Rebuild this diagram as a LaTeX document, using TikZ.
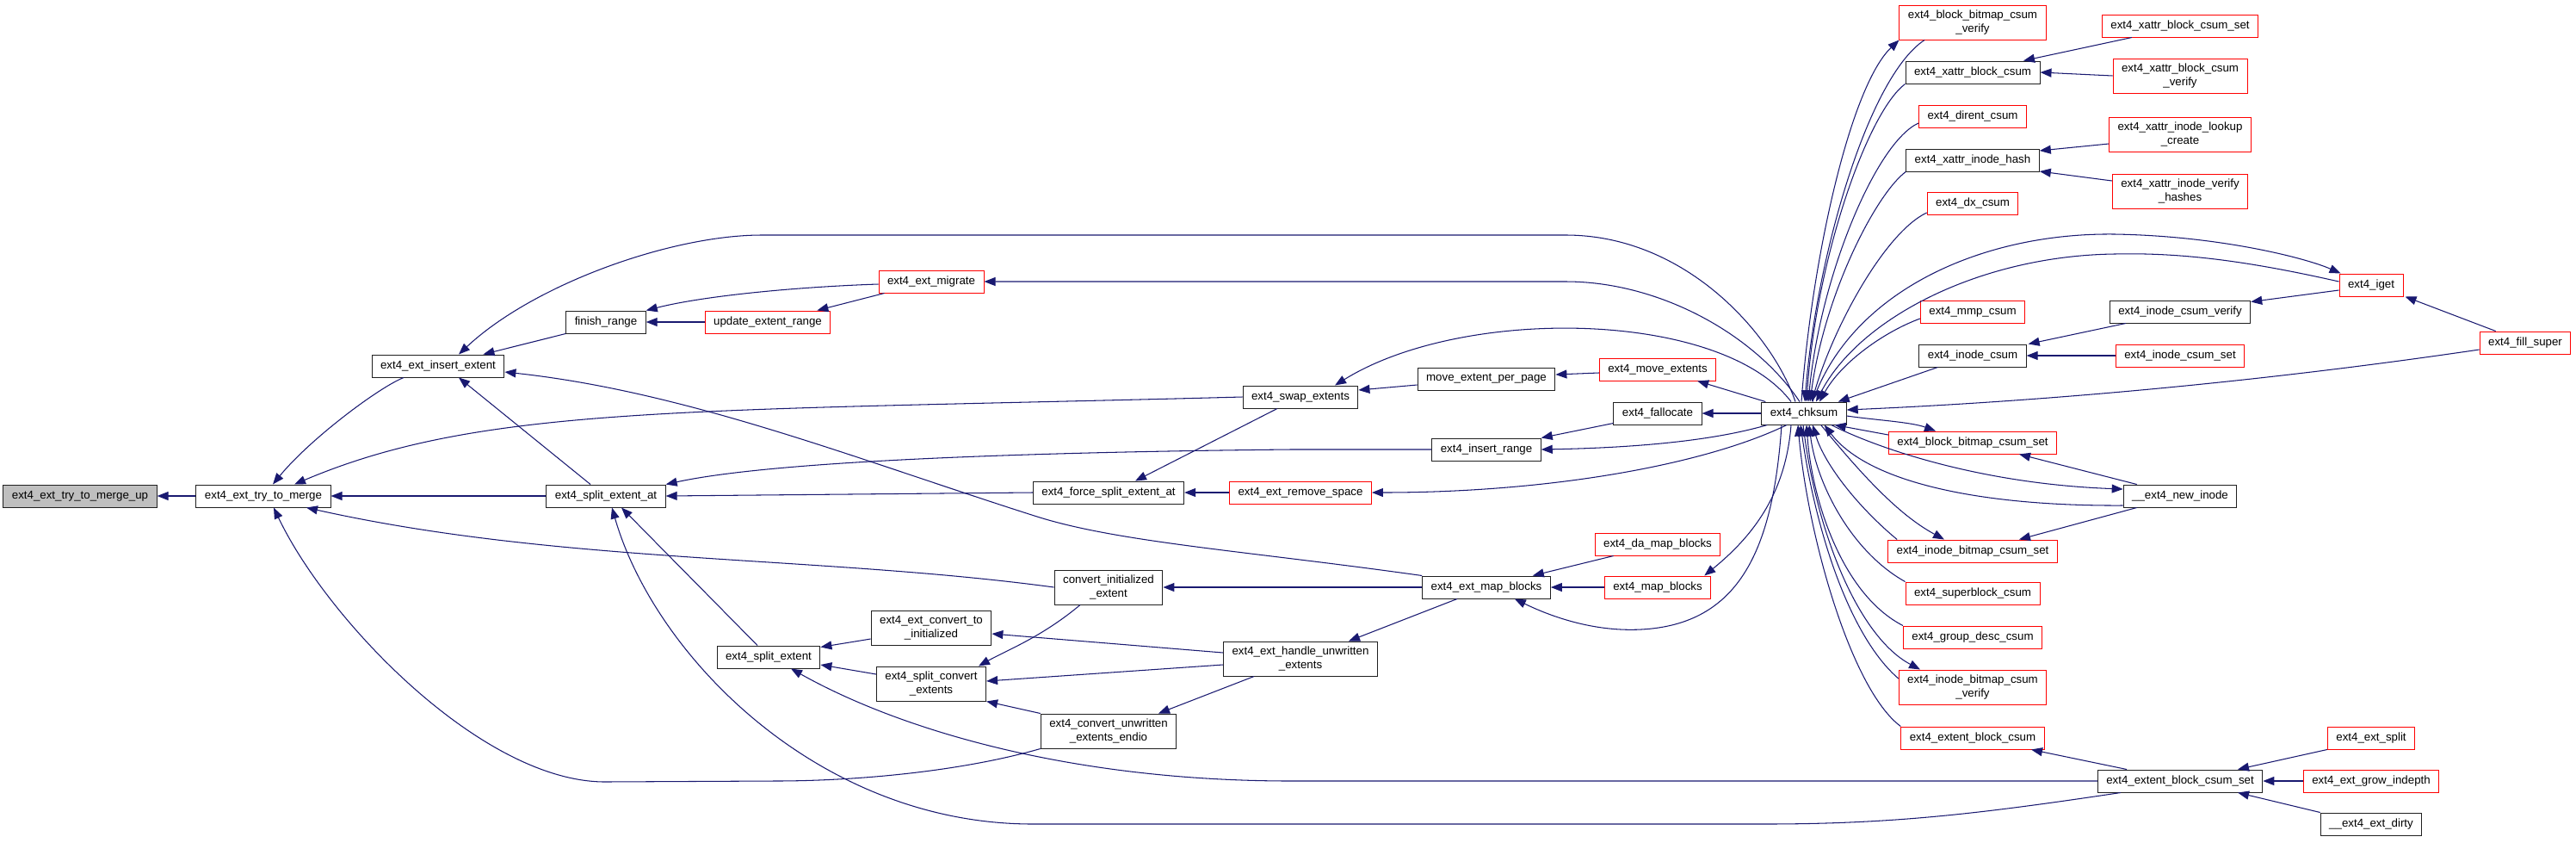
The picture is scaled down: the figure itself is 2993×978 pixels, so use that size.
\documentclass[tikz,border=0pt]{standalone}
\usepackage{fontspec}
\setmainfont{Liberation Sans}
\usetikzlibrary{arrows.meta}
\definecolor{edgec}{HTML}{191970}
\definecolor{rootfill}{HTML}{BFBFBF}
\definecolor{redc}{HTML}{FF0000}
\definecolor{boxc}{HTML}{202020}
\begin{document}
\begin{tikzpicture}[x=1pt,y=-1pt,
  nb/.style={draw=boxc, line width=1pt, fill=white, inner xsep=10pt, inner ysep=4pt,
    minimum height=26pt, font=\fontsize{13.3}{15.5}\selectfont, align=center},
  nr/.style={nb, draw=redc},
  nroot/.style={nb, fill=rootfill},
  two/.style={minimum height=40pt},
  cl/.style={draw=edgec, line width=1.05pt, -{Triangle[length=13pt,width=10pt]}}]
\useasboundingbox (0,0) rectangle (2993,978);
% nodes
\node[nroot] (tmu) at (93,576) {ext4\_ext\_try\_to\_merge\_up};
\node[nb] (tm) at (306,576) {ext4\_ext\_try\_to\_merge};
\node[nb] (ie) at (509,425) {ext4\_ext\_insert\_extent};
\node[nb] (fr) at (704,374) {finish\_range};
\node[nb] (sea) at (704,576) {ext4\_split\_extent\_at};
\node[nb] (se) at (893,763) {ext4\_split\_extent};
\node[nr] (uer) at (892,374) {update\_extent\_range};
\node[nr] (mig) at (1082,327) {ext4\_ext\_migrate};
\node[nb,two] (cti) at (1082,729) {ext4\_ext\_convert\_to\\\_initialized};
\node[nb,two] (sce) at (1082,794) {ext4\_split\_convert\\\_extents};
\node[nb,two] (cie) at (1288,682) {convert\_initialized\\\_extent};
\node[nb] (fsea) at (1288,572) {ext4\_force\_split\_extent\_at};
\node[nb,two] (cue) at (1288,849) {ext4\_convert\_unwritten\\\_extents\_endio};
\node[nb] (swap) at (1511,461) {ext4\_swap\_extents};
\node[nr] (rms) at (1511,572) {ext4\_ext\_remove\_space};
\node[nb,two] (hue) at (1511,765) {ext4\_ext\_handle\_unwritten\\\_extents};
\node[nb] (mepp) at (1727,440) {move\_extent\_per\_page};
\node[nb] (ir) at (1727,522) {ext4\_insert\_range};
\node[nb] (emb) at (1727,682) {ext4\_ext\_map\_blocks};
\node[nr] (mvx) at (1926,429) {ext4\_move\_extents};
\node[nb] (fal) at (1926,480) {ext4\_fallocate};
\node[nr] (dmb) at (1926,632) {ext4\_da\_map\_blocks};
\node[nr] (mb) at (1926,682) {ext4\_map\_blocks};
\node[nb] (chk) at (2096,480) {ext4\_chksum};
\node[nr,two] (bbcv) at (2292,26) {ext4\_block\_bitmap\_csum\\\_verify};
\node[nb] (xbc) at (2292,84) {ext4\_xattr\_block\_csum};
\node[nr] (dirent) at (2292,135) {ext4\_dirent\_csum};
\node[nb] (xih) at (2292,186) {ext4\_xattr\_inode\_hash};
\node[nr] (dx) at (2292,236) {ext4\_dx\_csum};
\node[nr] (mmp) at (2292,362) {ext4\_mmp\_csum};
\node[nb] (ic) at (2292,413) {ext4\_inode\_csum};
\node[nr] (bbcs) at (2292,514) {ext4\_block\_bitmap\_csum\_set};
\node[nr] (ibcs) at (2292,640) {ext4\_inode\_bitmap\_csum\_set};
\node[nr] (sbc) at (2292,689) {ext4\_superblock\_csum};
\node[nr] (gdc) at (2292,740) {ext4\_group\_desc\_csum};
\node[nr,two] (ibcv) at (2292,798) {ext4\_inode\_bitmap\_csum\\\_verify};
\node[nr] (ebc) at (2292,857) {ext4\_extent\_block\_csum};
\node[nr] (xbcs) at (2533,30) {ext4\_xattr\_block\_csum\_set};
\node[nr,two] (xbcv) at (2533,88) {ext4\_xattr\_block\_csum\\\_verify};
\node[nr,two] (xilc) at (2533,156) {ext4\_xattr\_inode\_lookup\\\_create};
\node[nr,two] (xivh) at (2533,222) {ext4\_xattr\_inode\_verify\\\_hashes};
\node[nb] (icv) at (2533,362) {ext4\_inode\_csum\_verify};
\node[nr] (ics) at (2533,413) {ext4\_inode\_csum\_set};
\node[nb] (ni) at (2533,576) {\_\_ext4\_new\_inode};
\node[nb] (ebcs) at (2533,907) {ext4\_extent\_block\_csum\_set};
\node[nr] (iget) at (2755,331) {ext4\_iget};
\node[nr] (fs) at (2934,398) {ext4\_fill\_super};
\node[nr] (split) at (2755,857) {ext4\_ext\_split};
\node[nr] (gi) at (2755,907) {ext4\_ext\_grow\_indepth};
\node[nb] (dirty) at (2755,957) {\_\_ext4\_ext\_dirty};
% edges, left part
\draw[cl] (tm) -- (tmu);
\draw[cl] ([xshift=-40pt]ie.south) .. controls (440,450) and (360,510) .. ([xshift=11pt]tm.north);
\draw[cl] (swap.west) .. controls (800,478) and (560,470) .. ([xshift=36pt]tm.north);
\draw[cl] (sea) -- (tm);
\draw[cl] (cie.west) .. controls (950,645) and (650,655) .. ([xshift=50pt]tm.south);
\draw[cl] (cue.south west) .. controls (1120,895) and (1000,907) .. (900,907) -- (703,908) .. controls (560,908) and (380,720) .. ([xshift=12pt]tm.south);
\draw[cl] ([xshift=-10pt]chk.north) .. controls (2060,390) and (1960,273) .. (1819,273) -- (885,273) .. controls (780,273) and (620,330) .. ([xshift=24pt]ie.north);
\draw[cl] (fr.south west) -- ([xshift=-25pt]ie.north east);
\draw[cl] (emb.north west) .. controls (1450,640) and (1300,630) .. (1205,600) .. controls (1000,535) and (800,455) .. ([yshift=-7pt]ie.east);
\draw[cl] ([xshift=-18pt]sea.north) -- ([xshift=24pt]ie.south);
\draw[cl] (ir.west) -- (1500,522) .. controls (1200,525) and (900,535) .. (sea.north east);
\draw[cl] (fsea.west) -- (sea.east);
\draw[cl] ([xshift=-13pt]se.north) -- ([xshift=18pt]sea.south);
\draw[cl] ([xshift=-69pt]ebcs.south) .. controls (2300,945) and (2200,957) .. (2050,957) -- (1200,957) .. controls (950,957) and (760,760) .. ([xshift=7pt]sea.south);
\draw[cl] ([yshift=-13pt]cti.west) -- ([yshift=-2pt]se.north east);
\draw[cl] ([yshift=11pt]sce.west) -- ([yshift=-9pt]se.east);
\draw[cl] (ebcs.west) -- (1500,907) .. controls (1250,907) and (1050,850) .. ([xshift=26pt]se.south);
\draw[cl] ([yshift=7pt]hue.west) -- ([yshift=-7pt]cti.east);
\draw[cl] ([xshift=-33pt]cie.south) .. controls (1210,740) and (1170,755) .. ([xshift=55pt]sce.north);
\draw[cl] ([yshift=-7pt]hue.west) -- ([yshift=3pt]sce.east);
\draw[cl] (cue.north west) -- (sce.south east);
\draw[cl] ([xshift=-54pt]hue.south) -- ([xshift=58pt]cue.north);
\draw[cl] (emb.west) -- (cie.east);
\draw[cl] ([xshift=-34pt]emb.south) -- ([xshift=56pt]hue.north);
\draw[cl] ([yshift=-3pt]mig.west) .. controls (930,333) and (820,343) .. (fr.north east);
\draw[cl] (uer) -- (fr);
\draw[cl] ([xshift=7pt]mig.south west) -- ([xshift=-16pt]uer.north east);
\draw[cl] ([xshift=-5pt]chk.north) .. controls (2040,390) and (1930,327) .. (1819,327) -- (mig.east);
\draw[cl] ([yshift=-7pt]mepp.west) -- ([yshift=8pt]swap.east);
\draw[cl] ([xshift=-15pt]chk.north) .. controls (2000,360) and (1700,355) .. ([xshift=40pt]swap.north);
\draw[cl] ([xshift=-27pt]swap.south) -- ([xshift=31pt]fsea.north);
\draw[cl] (rms) -- (fsea);
\draw[cl] ([xshift=-20pt]chk.south) .. controls (1980,540) and (1800,572) .. (rms.east);
\draw[cl] ([yshift=-4pt]mvx.west) -- ([yshift=5pt]mepp.east);
\draw[cl] ([xshift=5pt]chk.north west) -- ([xshift=-22pt]mvx.south east);
\draw[cl] (chk) -- (fal);
\draw[cl] ([yshift=2pt]fal.south west) -- (ir.north east);
\draw[cl] ([xshift=7pt]chk.south west) .. controls (1990,512) and (1900,520) .. (ir.east);
\draw[cl] (mb) -- (emb);
\draw[cl] ([xshift=22pt]dmb.south west) -- ([xshift=-21pt]emb.north east);
\draw[cl] ([xshift=-26pt]chk.south) .. controls (2060,640) and (2020,725) .. (1907,731) .. controls (1850,734) and (1800,715) .. ([xshift=-42pt]emb.south east);
\draw[cl] ([xshift=-15pt]chk.south) .. controls (2075,570) and (2040,620) .. ([xshift=-8pt]mb.north east);
% edges, right part
\draw[cl] ([xshift=-3pt]chk.north) .. controls (2105,300) and (2150,100) .. (bbcv.south west);
\draw[cl] ([xshift=-56pt]bbcv.south) .. controls (2170,90) and (2110,300) .. ([xshift=1pt]chk.north);
\draw[cl] (xbc.south west) .. controls (2170,130) and (2110,300) .. ([xshift=3pt]chk.north);
\draw[cl] ([yshift=-8pt]dirent.west) .. controls (2180,165) and (2115,320) .. ([xshift=5pt]chk.north);
\draw[cl] (xih.south west) .. controls (2180,225) and (2120,340) .. ([xshift=7pt]chk.north);
\draw[cl] ([yshift=-11pt]dx.west) .. controls (2190,270) and (2130,380) .. ([xshift=9pt]chk.north);
\draw[cl] ([xshift=10pt]chk.north) .. controls (2150,340) and (2300,270) .. (2457,272) .. controls (2580,274) and (2680,300) .. ([xshift=2pt]iget.north west);
\draw[cl] ([yshift=4pt]iget.west) .. controls (2620,305) and (2540,293) .. (2457,295) .. controls (2300,297) and (2160,370) .. ([xshift=14pt]chk.north);
\draw[cl] ([yshift=-8pt]mmp.west) .. controls (2190,385) and (2140,420) .. ([xshift=18pt]chk.north);
\draw[cl] ([xshift=22pt]ic.south west) -- ([xshift=-10pt]chk.north east);
\draw[cl] ([yshift=-8pt]fs.west) .. controls (2650,440) and (2400,465) .. ([yshift=4pt]chk.east);
\draw[cl] ([xshift=19pt]fs.north west) -- ([xshift=2pt]iget.south east);
\draw[cl] ([yshift=-6pt]iget.west) -- ([yshift=-2pt]icv.north east);
\draw[cl] ([xshift=19pt]icv.south west) -- ([xshift=2pt]ic.north east);
\draw[cl] (ics) -- (ic);
\draw[cl] ([yshift=-3pt]chk.east) .. controls (2180,488) and (2220,490) .. ([xshift=-43pt]bbcs.north);
\draw[cl] ([yshift=9pt]bbcs.west) -- ([xshift=-14pt]chk.south east);
\draw[cl] ([xshift=-18pt]chk.south east) .. controls (2180,520) and (2300,562) .. ([yshift=8pt]ni.west);
\draw[cl] ([yshift=-11pt]ni.west) .. controls (2300,588) and (2170,560) .. ([xshift=-26pt]chk.south east);
\draw[cl] ([xshift=16pt]ni.north west) -- ([xshift=54pt]bbcs.south);
\draw[cl] ([xshift=16pt]ni.south west) -- ([xshift=54pt]ibcs.north);
\draw[cl] ([xshift=-30pt]chk.south east) .. controls (2170,560) and (2210,600) .. ([xshift=-33pt]ibcs.north);
\draw[cl] ([xshift=11pt]ibcs.north west) .. controls (2160,590) and (2120,540) .. ([xshift=10pt]chk.south);
\draw[cl] (sbc.north west) .. controls (2150,640) and (2110,560) .. ([xshift=6pt]chk.south);
\draw[cl] (gdc.north west) .. controls (2140,690) and (2105,580) .. ([xshift=3pt]chk.south);
\draw[cl] ([xshift=-1pt]chk.south) .. controls (2110,620) and (2160,740) .. ([xshift=-61pt]ibcv.north);
\draw[cl] ([yshift=10pt]ibcv.west) .. controls (2150,740) and (2110,620) .. ([xshift=-4pt]chk.south);
\draw[cl] (ebc.north west) .. controls (2150,800) and (2100,620) .. ([xshift=-7pt]chk.south);
\draw[cl] ([xshift=-62pt]ebcs.north) -- ([xshift=68pt]ebc.south);
\draw[cl] (split.south west) -- ([xshift=67pt]ebcs.north);
\draw[cl] (gi) -- (ebcs);
\draw[cl] (dirty.north west) -- ([xshift=67pt]ebcs.south);
\draw[cl] ([xshift=35pt]xbcs.south west) -- ([xshift=59pt]xbc.north);
\draw[cl] (xbcv.west) -- (xbc.east);
\draw[cl] ([yshift=-11pt]xilc.west) -- ([yshift=11pt]xih.east);
\draw[cl] ([yshift=12pt]xivh.west) -- ([yshift=-13pt]xih.east);
\end{tikzpicture}
\end{document}
